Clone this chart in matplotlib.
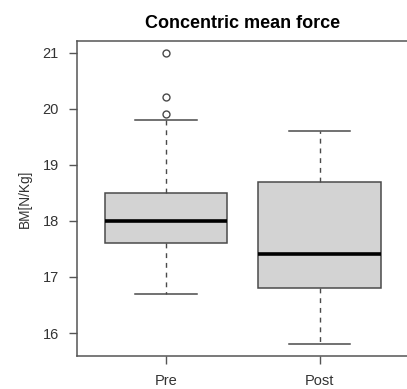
import matplotlib
matplotlib.use("Agg")
import matplotlib.pyplot as plt

plt.rcParams['font.family'] = ['Liberation Sans', 'DejaVu Sans']

# Summary statistics for each group
groups = ["Pre", "Post"]
q1 = [17.6, 16.8]
medians = [18.0, 17.4]
q3 = [18.5, 18.7]
whisker_low = [16.7, 15.8]
whisker_high = [19.8, 19.6]
outliers = [[21.0, 20.2, 19.9], []]

stats = []
for i, name in enumerate(groups):
    stats.append(dict(label=name, q1=q1[i], med=medians[i], q3=q3[i],
                      whislo=whisker_low[i], whishi=whisker_high[i],
                      fliers=outliers[i]))

fig = plt.figure(figsize=(4.07, 3.89), dpi=100)
ax = fig.add_axes([0.189, 0.085, 0.815, 0.81])

edge = "#4a4a4a"
ax.bxp(stats, positions=[1, 2], widths=0.8, patch_artist=True,
       boxprops=dict(facecolor="#d3d3d3", edgecolor=edge, linewidth=1.1),
       medianprops=dict(color="black", linewidth=2.6, solid_capstyle="butt"),
       whiskerprops=dict(color=edge, linewidth=1.0, linestyle=(0, (3.5, 3.5))),
       capprops=dict(color=edge, linewidth=1.1),
       capwidths=0.4,
       flierprops=dict(marker="o", markerfacecolor="none", markeredgecolor=edge,
                       markersize=5, markeredgewidth=1.0))

ax.set_xlim(0.42, 2.58)
ax.set_ylim(15.592, 21.208)
ax.set_yticks([16, 17, 18, 19, 20, 21])
ax.set_xticks([1, 2])
ax.set_xticklabels(groups)

for s in ax.spines.values():
    s.set_color("#555555")
    s.set_linewidth(1.1)

ax.tick_params(axis="both", colors="#555555", length=6, width=1.0,
               labelsize=10.5, labelcolor="#333333")
ax.tick_params(axis="y", pad=7)
ax.tick_params(axis="x", pad=7)

ax.set_ylabel("BM[N/Kg]", fontsize=9.8, color="#333333", labelpad=8)
ax.set_title("Concentric mean force", fontsize=13, fontweight="bold", pad=9)

fig.savefig("out.png", dpi=100)
